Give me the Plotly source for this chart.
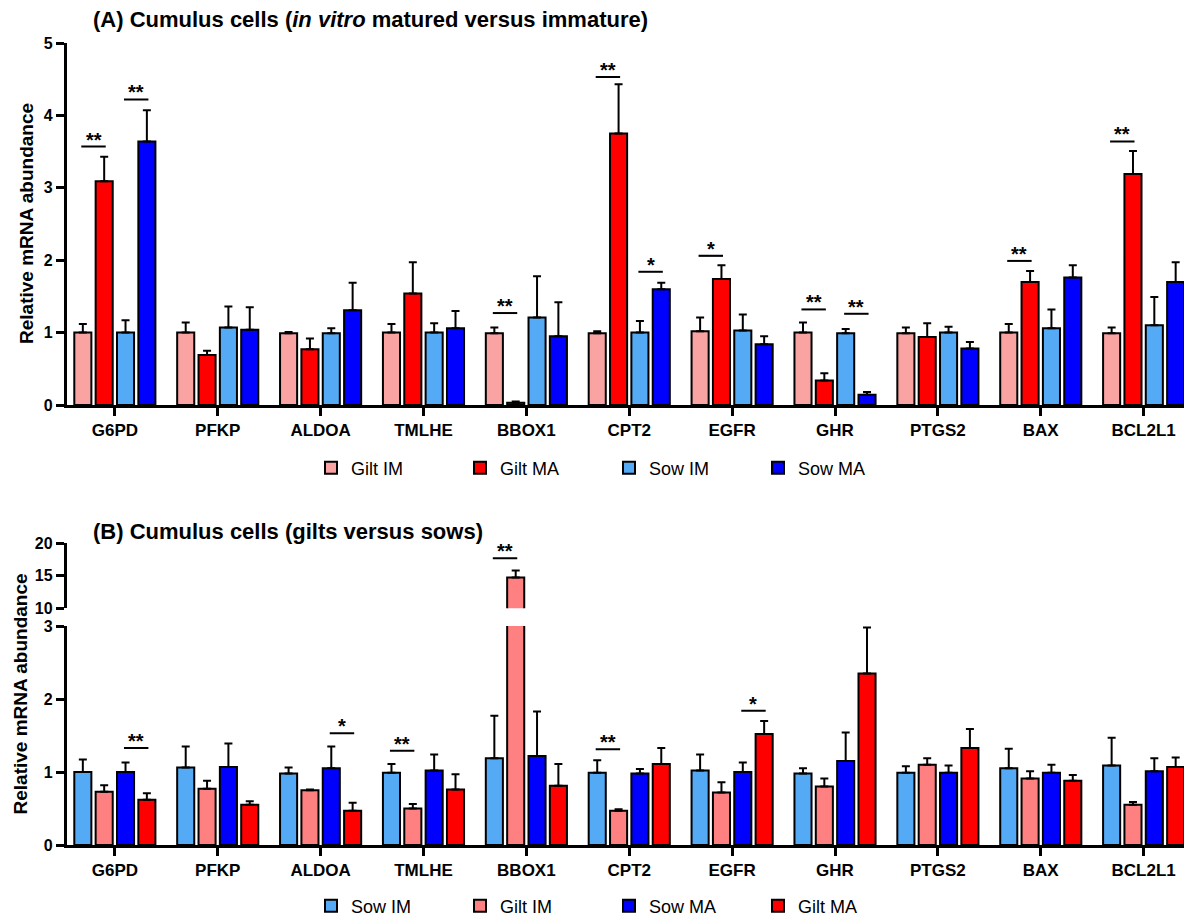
import plotly.graph_objects as go

# page renders the figure with an 8px body offset; size figure so it fills the window
OFF = 8
W, H = 1192 - OFF, 920 - OFF
FONT = "Liberation Sans, Arial, sans-serif"

genes = ["G6PD", "PFKP", "ALDOA", "TMLHE", "BBOX1", "CPT2", "EGFR", "GHR", "PTGS2", "BAX", "BCL2L1"]

# ---------------- Panel A: in vitro matured versus immature ----------------
a_names = ["Gilt IM", "Gilt MA", "Sow IM", "Sow MA"]
a_gilt_im = [1.00, 1.00, 0.99, 1.00, 0.99, 0.99, 1.02, 1.00, 0.99, 1.00, 0.99]
a_gilt_im_err = [0.12, 0.14, 0.02, 0.12, 0.08, 0.03, 0.19, 0.14, 0.08, 0.12, 0.08]
a_gilt_ma = [3.09, 0.69, 0.77, 1.54, 0.03, 3.75, 1.74, 0.34, 0.94, 1.70, 3.19]
a_gilt_ma_err = [0.34, 0.06, 0.15, 0.43, 0.02, 0.68, 0.19, 0.10, 0.19, 0.15, 0.32]
a_sow_im = [1.00, 1.07, 0.99, 1.00, 1.21, 1.00, 1.03, 0.99, 1.00, 1.06, 1.10]
a_sow_im_err = [0.17, 0.29, 0.07, 0.13, 0.57, 0.16, 0.22, 0.06, 0.08, 0.26, 0.39]
a_sow_ma = [3.64, 1.04, 1.31, 1.06, 0.95, 1.60, 0.84, 0.14, 0.78, 1.76, 1.70]
a_sow_ma_err = [0.43, 0.31, 0.38, 0.24, 0.47, 0.09, 0.11, 0.04, 0.09, 0.17, 0.27]
a_colors = ["#F9A3A3", "#FF0000", "#55AAF5", "#0000FF"]
# significance: (gene, bar_from, bar_to, level, label)
a_sig = [("G6PD", 0, 1, 3.57, "**"), ("G6PD", 2, 3, 4.22, "**"),
         ("BBOX1", 0, 1, 1.27, "**"), ("CPT2", 0, 1, 4.53, "**"),
         ("CPT2", 2, 3, 1.84, "*"), ("EGFR", 0, 1, 2.06, "*"),
         ("GHR", 0, 1, 1.32, "**"), ("GHR", 2, 3, 1.26, "**"),
         ("BAX", 0, 1, 1.99, "**"), ("BCL2L1", 0, 1, 3.64, "**")]

# ---------------- Panel B: gilts versus sows ----------------
b_names = ["Sow IM", "Gilt IM", "Sow MA", "Gilt MA"]
b_sow_im = [1.00, 1.06, 0.98, 0.99, 1.19, 0.99, 1.02, 0.98, 0.99, 1.05, 1.09]
b_sow_im_err = [0.17, 0.29, 0.08, 0.12, 0.58, 0.17, 0.22, 0.07, 0.09, 0.27, 0.38]
b_gilt_im = [0.73, 0.77, 0.75, 0.50, 14.74, 0.47, 0.72, 0.80, 1.10, 0.91, 0.55]
b_gilt_im_err = [0.09, 0.11, 0.01, 0.06, 1.06, 0.02, 0.14, 0.11, 0.09, 0.10, 0.04]
b_sow_ma = [1.00, 1.07, 1.05, 1.02, 1.22, 0.98, 1.00, 1.15, 0.99, 0.99, 1.01]
b_sow_ma_err = [0.13, 0.32, 0.30, 0.22, 0.61, 0.06, 0.13, 0.39, 0.10, 0.11, 0.18]
b_gilt_ma = [0.62, 0.55, 0.47, 0.76, 0.81, 1.11, 1.52, 2.35, 1.33, 0.88, 1.07]
b_gilt_ma_err = [0.09, 0.05, 0.11, 0.21, 0.30, 0.22, 0.18, 0.63, 0.26, 0.08, 0.13]
b_colors = ["#55AAF5", "#FF8080", "#0000FF", "#FF0000"]
b_sig = [("G6PD", 2, 3, 1.33, "**"), ("ALDOA", 2, 3, 1.53, "*"),
         ("TMLHE", 0, 1, 1.29, "**"), ("BBOX1", 0, 1, 17.7, "**"),
         ("CPT2", 0, 1, 1.31, "**"), ("EGFR", 2, 3, 1.84, "*")]

BARGAP, GROUPGAP = 0.17, 0.2


def px(p):
    return (p - OFF) / W


def py(p):
    return 1 - (p - OFF) / H


fig = go.Figure()

a_vals = [a_gilt_im, a_gilt_ma, a_sow_im, a_sow_ma]
a_errs = [a_gilt_im_err, a_gilt_ma_err, a_sow_im_err, a_sow_ma_err]
for name, v, e, c in zip(a_names, a_vals, a_errs, a_colors):
    fig.add_trace(go.Bar(
        x=genes, y=v, name=name, xaxis="x", yaxis="y", legend="legend",
        marker=dict(color=c, line=dict(color="black", width=2)),
        error_y=dict(type="data", array=e, arrayminus=[0] * len(e), symmetric=False,
                     color="black", thickness=2, width=4),
    ))

b_vals = [b_sow_im, b_gilt_im, b_sow_ma, b_gilt_ma]
b_errs = [b_sow_im_err, b_gilt_im_err, b_sow_ma_err, b_gilt_ma_err]
for yax, xax, show in (("y2", "x2", True), ("y3", "x3", False)):
    for name, v, e, c in zip(b_names, b_vals, b_errs, b_colors):
        fig.add_trace(go.Bar(
            x=genes, y=v, name=name, xaxis=xax, yaxis=yax, legend="legend2",
            showlegend=show,
            marker=dict(color=c, line=dict(color="black", width=2)),
            error_y=dict(type="data", array=e, arrayminus=[0] * len(e), symmetric=False,
                         color="black", thickness=2, width=4),
        ))

slot = (1 - BARGAP) / 4


def bar_offset(k):
    return (k - 1.5) * slot


shapes, annotations = [], []


def add_sig(sig, xref, yref):
    for gene, k1, k2, level, label in sig:
        i = genes.index(gene)
        x0 = i + bar_offset(k1) - 0.015
        x1 = i + bar_offset(k2) + 0.015
        shapes.append(dict(type="line", xref=xref, yref=yref, x0=x0, x1=x1, y0=level, y1=level,
                           line=dict(color="black", width=2)))
        annotations.append(dict(xref=xref, yref=yref, x=(x0 + x1) / 2, y=level, text=label,
                                showarrow=False, yanchor="middle", yshift=7,
                                font=dict(size=20, family=FONT, color="black", weight="bold")))


add_sig(a_sig, "x", "y")
add_sig([s for s in b_sig if s[3] < 3], "x2", "y2")
add_sig([s for s in b_sig if s[3] >= 10], "x3", "y3")

# titles
annotations.append(dict(xref="paper", yref="paper", x=px(91), y=py(19), xanchor="left", yanchor="middle",
                        text="<b>(A) Cumulus cells (<i>in vitro</i> matured versus immature)</b>",
                        showarrow=False, font=dict(size=22, family=FONT, color="black")))
annotations.append(dict(xref="paper", yref="paper", x=px(91), y=py(531), xanchor="left", yanchor="middle",
                        text="<b>(B) Cumulus cells (gilts versus sows)</b>",
                        showarrow=False, font=dict(size=22, family=FONT, color="black")))
# y-axis titles
annotations.append(dict(xref="paper", yref="paper", x=px(27), y=py(224), xanchor="center", yanchor="middle",
                        text="<b>Relative mRNA abundance</b>", textangle=-90,
                        showarrow=False, font=dict(size=19, family=FONT, color="black")))
annotations.append(dict(xref="paper", yref="paper", x=px(19.5), y=py(694), xanchor="center", yanchor="middle",
                        text="<b>Relative mRNA abundance</b>", textangle=-90,
                        showarrow=False, font=dict(size=19, family=FONT, color="black")))

xdom = [px(66.5), 1.0]
xr = [-0.47, 10.47]
axis_common = dict(showline=True, linecolor="black", linewidth=2.5, ticks="outside",
                   ticklen=8, tickwidth=2.5, tickcolor="black", showgrid=False, zeroline=False,
                   automargin=False)
xfont = dict(size=17, family=FONT, color="black", weight="bold")
yfont = dict(size=16, family=FONT, color="black", weight="bold")
legfont = dict(size=18, family=FONT, color="black")

fig.update_layout(
    width=W, height=H, margin=dict(l=0, r=0, t=0, b=0, autoexpand=False),
    paper_bgcolor="white", plot_bgcolor="white",
    barmode="group", bargap=BARGAP, bargroupgap=GROUPGAP,
    font=dict(family=FONT, color="black"),
    xaxis=dict(domain=xdom, range=xr, anchor="y", type="category",
               tickfont=xfont, **axis_common),
    yaxis=dict(domain=[py(405), py(43)], range=[0, 5], anchor="x",
               tickvals=[0, 1, 2, 3, 4, 5], tickfont=yfont, **axis_common),
    xaxis2=dict(domain=xdom, range=xr, anchor="y2", type="category",
                tickfont=xfont, **axis_common),
    yaxis2=dict(domain=[py(845), py(626)], range=[0, 3], anchor="x2",
                tickvals=[0, 1, 2, 3], tickfont=yfont, **axis_common),
    xaxis3=dict(domain=xdom, range=xr, anchor="y3", type="category", matches="x2",
                visible=False),
    yaxis3=dict(domain=[py(608.3), py(543.3)], range=[10, 20], anchor="x3",
                tickvals=[10, 15, 20], tickfont=yfont, **axis_common),
    legend=dict(orientation="h", x=px(311), y=py(468), xanchor="left", yanchor="middle",
                font=legfont, entrywidth=104,
                entrywidthmode="pixels", bgcolor="rgba(0,0,0,0)", traceorder="normal"),
    legend2=dict(orientation="h", x=px(311), y=py(906), xanchor="left", yanchor="middle",
                 font=legfont, entrywidth=104,
                 entrywidthmode="pixels", bgcolor="rgba(0,0,0,0)", traceorder="normal"),
    shapes=shapes, annotations=annotations,
)
fig.write_html("out.html")
